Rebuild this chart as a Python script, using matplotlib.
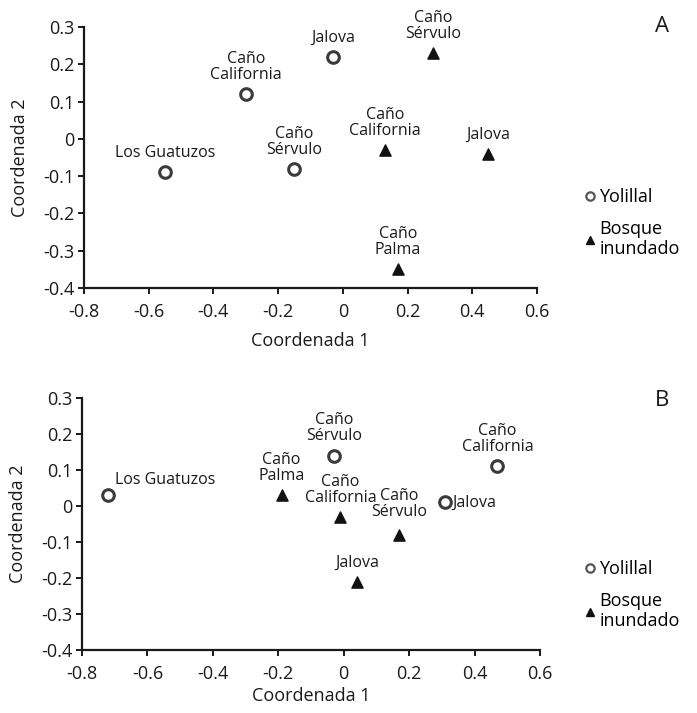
import matplotlib
matplotlib.use("Agg")
import matplotlib.pyplot as plt
from matplotlib.lines import Line2D

plt.rcParams["font.family"] = ["Open Sans", "DejaVu Sans"]
plt.rcParams["axes.unicode_minus"] = False

### data
# panel A
a_yol_names = ["Los Guatuzos", "Caño\nCalifornia", "Caño\nSérvulo", "Jalova"]
a_yol_x = [-0.55, -0.30, -0.15, -0.03]
a_yol_y = [-0.09, 0.12, -0.08, 0.22]
a_bos_names = ["Caño\nSérvulo", "Caño\nCalifornia", "Jalova", "Caño\nPalma"]
a_bos_x = [0.28, 0.13, 0.45, 0.17]
a_bos_y = [0.23, -0.03, -0.04, -0.35]

# panel B
b_yol_names = ["Los Guatuzos", "Caño\nSérvulo", "Caño\nCalifornia", "Jalova"]
b_yol_x = [-0.72, -0.03, 0.47, 0.31]
b_yol_y = [0.03, 0.14, 0.11, 0.01]
b_bos_names = ["Caño\nPalma", "Caño\nCalifornia", "Caño\nSérvulo", "Jalova"]
b_bos_x = [-0.19, -0.01, 0.17, 0.04]
b_bos_y = [0.03, -0.03, -0.08, -0.21]

x_ticks = [-0.8, -0.6, -0.4, -0.2, 0, 0.2, 0.4, 0.6]
y_ticks = [-0.4, -0.3, -0.2, -0.1, 0, 0.1, 0.2, 0.3]

ink = "#1a1a1a"
circ = dict(marker="o", s=70, facecolors="white", edgecolors="#3a3a3a",
            linewidths=2.2, zorder=3)
tri = dict(marker="^", s=65, color="#111111", zorder=3)


def fmt(v):
    return "0" if v == 0 else f"{v:.1f}"


def label_points(ax, names, xs, ys, special=None):
    special = special or {}
    for i, (n, x, y) in enumerate(zip(names, xs, ys)):
        off, ha, va = special.get(i, ((0, 8), "center", "bottom"))
        ax.annotate(n, (x, y), xytext=off, textcoords="offset points",
                    ha=ha, va=va, fontsize=11.5, linespacing=1.0, color=ink)


def setup(ax, tag, tag_y, leg_y, xpad):
    ax.set_xlim(-0.8, 0.6)
    ax.set_ylim(-0.4, 0.3)
    ax.set_xticks(x_ticks)
    ax.set_xticklabels([fmt(v) for v in x_ticks])
    ax.set_yticks(y_ticks)
    ax.set_yticklabels([fmt(v) for v in y_ticks])
    for s in ["top", "right"]:
        ax.spines[s].set_visible(False)
    for s in ["left", "bottom"]:
        ax.spines[s].set_linewidth(1.6)
        ax.spines[s].set_color(ink)
    ax.tick_params(direction="out", length=4, width=1.4, labelsize=13,
                   colors=ink)
    ax.tick_params(axis="x", pad=7)
    ax.tick_params(axis="y", pad=3)
    ax.set_xlabel("Coordenada 1", fontsize=13, color=ink, labelpad=xpad)
    ax.set_ylabel("Coordenada 2", fontsize=13, color=ink, labelpad=10)
    fig.text(662 / 697, 1 - tag_y / 713, tag,
             fontsize=16, ha="center", va="center", color=ink)
    handles = [
        Line2D([], [], marker="o", ls="", markersize=6, markerfacecolor="white",
               markeredgecolor="#555555", markeredgewidth=1.6),
        Line2D([], [], marker="^", ls="", markersize=6, color="#111111"),
    ]
    fig.legend(handles, ["Yolillal", "Bosque\ninundado"], loc="upper left",
               bbox_to_anchor=(585 / 697, 1 - leg_y / 713), frameon=False,
               fontsize=13, handlelength=0.6, handletextpad=0.2,
               labelspacing=0.75, borderpad=0, borderaxespad=0)


fig = plt.figure(figsize=(6.97, 7.13), dpi=100)

axA = fig.add_axes([84 / 697, 1 - 288 / 713, 453 / 697, 261 / 713])
axA.scatter(a_yol_x, a_yol_y, **circ)
axA.scatter(a_bos_x, a_bos_y, **tri)
label_points(axA, a_yol_names, a_yol_x, a_yol_y)
label_points(axA, a_bos_names, a_bos_x, a_bos_y)
setup(axA, "A", 27, 188, 8)

axB = fig.add_axes([82 / 697, 1 - 650 / 713, 458 / 697, 252 / 713])
axB.scatter(b_yol_x, b_yol_y, **circ)
axB.scatter(b_bos_x, b_bos_y, **tri)
label_points(axB, b_yol_names, b_yol_x, b_yol_y,
             special={0: ((5, 5), "left", "bottom"),
                      3: ((5, 0), "left", "center")})
label_points(axB, b_bos_names, b_bos_x, b_bos_y,
             special={2: ((0, 11), "center", "bottom")})
setup(axB, "B", 400, 560, 3)

fig.savefig("out.png", dpi=100, facecolor="white")
